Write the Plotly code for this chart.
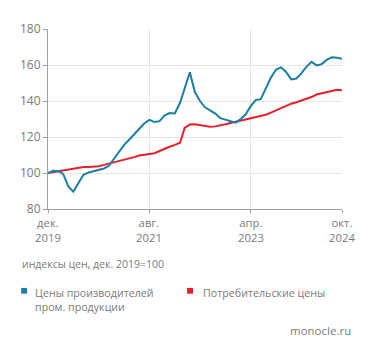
import plotly.graph_objects as go
import pandas as pd

# Monthly data, Dec 2019 .. Oct 2024 (index, Dec 2019 = 100)
months = pd.date_range("2019-12-01", "2024-10-01", freq="MS")

ppi = [100, 101.2, 101, 99.5, 92.5, 89.6, 94.5, 99, 100.3, 101, 101.5, 102.5,
       104, 108, 112, 115.5, 118.5, 121.5, 125, 127.5, 129.5, 128.3, 128.8, 132,
       133.3, 133.1, 139, 147, 156, 145, 140, 136.5, 134.5, 133, 130.5, 129.7,
       128.5, 128, 130, 132.5, 137, 140.5, 141, 147, 153, 157.5, 158.7, 156,
       152, 152.5, 155.5, 159, 161.8, 159.8, 160.5, 162.8, 164.3, 164, 163.5]

cpi = [100, 100.5, 100.9, 101.5, 102.2, 102.6, 102.9, 103.3, 103.4, 103.4, 103.8, 104.5,
       105.2, 105.8, 106.5, 107.1, 107.8, 108.8, 109.7, 110, 110.3, 111, 112.2, 113.5,
       114.6, 115.6, 116.8, 125, 127, 127.1, 126.6, 126, 125.7, 125.9, 126.3, 127.1,
       127.8, 128.5, 129.2, 129.6, 130.3, 131, 131.7, 132.4, 133.5, 134.8, 136.3, 137.5,
       138.5, 139.3, 140.2, 141.2, 142.2, 143.6, 144.3, 144.8, 145.5, 146.2, 146.0]

tick_dates = ["2019-12-01", "2021-08-01", "2023-04-01", "2024-10-01"]
tick_labels = ["дек.<br>2019", "авг.<br>2021", "апр.<br>2023", "окт.<br>2024"]

series_names = ["Цены производителей<br>пром. продукции", "Потребительские цены"]
caption = "индексы цен, дек. 2019=100"
source = "monocle.ru"

BLUE = "#1a7fa3"
RED = "#e3202c"
GREY = "#7a7a7a"
FONT = "Open Sans"

OFF = 8  # page body margin
W, H = 371, 357
# plot area in window pixels: x 46..342, y 22..209
L, T = 46 - OFF, 22 - OFF
R = W - (342 - OFF)
B = H - (209 - OFF)
pw, ph = W - L - R, H - T - B


def px(x):
    return (x - OFF - L) / pw


def py(y):
    return 1 - (y - OFF - T) / ph


fig = go.Figure()
fig.add_trace(go.Scatter(x=months, y=cpi, mode="lines",
                         line=dict(color=RED, width=2), name="cpi"))
fig.add_trace(go.Scatter(x=months, y=ppi, mode="lines",
                         line=dict(color=BLUE, width=2), name="ppi"))

fig.update_layout(
    width=W, height=H,
    margin=dict(l=L, r=R, t=T, b=B),
    paper_bgcolor="white", plot_bgcolor="white",
    showlegend=False,
    font=dict(family=FONT, color=GREY, size=12),
    xaxis=dict(
        range=[months[0], months[-1]],
        tickvals=tick_dates, showticklabels=False,
        showgrid=True, gridcolor="#e6e6e6", gridwidth=1,
        showline=True, linecolor="#a0a0a0", linewidth=1,
        ticks="outside", ticklen=3, tickcolor="#a0a0a0",
        zeroline=False,
    ),
    yaxis=dict(
        range=[80, 180], dtick=20,
        showgrid=True, gridcolor="#e6e6e6", gridwidth=1,
        showline=True, linecolor="#a0a0a0", linewidth=1,
        ticks="outside", ticklen=4, tickcolor="#a0a0a0",
        tickfont=dict(size=12, color=GREY),
        zeroline=False,
    ),
)

# x tick labels (two lines, one text each)
for d, lab in zip(tick_dates, tick_labels):
    fig.add_annotation(text=lab, xref="x", yref="paper", x=d, y=py(231),
                       xanchor="center", yanchor="middle", showarrow=False,
                       align="center", font=dict(size=11.3, color=GREY))

# Caption
fig.add_annotation(text=caption, xref="paper", yref="paper",
                   x=px(18), y=py(266), xanchor="left", yanchor="middle",
                   showarrow=False, font=dict(size=10.5, color=GREY))

# Legend (manual)
fig.add_shape(type="rect", xref="paper", yref="paper",
              x0=px(19), x1=px(25), y0=py(291), y1=py(297),
              fillcolor=BLUE, line=dict(width=0))
fig.add_annotation(text=series_names[0], xref="paper", yref="paper",
                   x=px(31), y=py(287), xanchor="left", yanchor="top",
                   align="left", showarrow=False,
                   font=dict(size=10.7, color=GREY))
fig.add_shape(type="rect", xref="paper", yref="paper",
              x0=px(186), x1=px(192), y0=py(291), y1=py(297),
              fillcolor=RED, line=dict(width=0))
fig.add_annotation(text=series_names[1], xref="paper", yref="paper",
                   x=px(200), y=py(287), xanchor="left", yanchor="top",
                   align="left", showarrow=False,
                   font=dict(size=10.7, color=GREY))

# Source
fig.add_annotation(text=source, xref="paper", yref="paper",
                   x=px(353), y=py(335), xanchor="right", yanchor="middle",
                   showarrow=False, font=dict(size=11.5, color=GREY))

fig.write_html("out.html")
